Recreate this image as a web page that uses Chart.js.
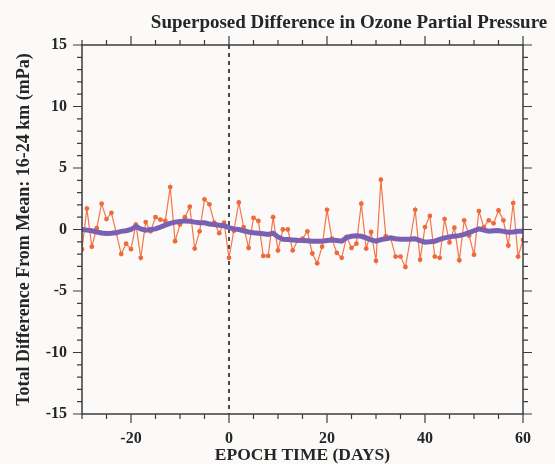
<!DOCTYPE html>
<html>
<head>
<meta charset="utf-8">
<title>Superposed Difference in Ozone Partial Pressure</title>
<script src="https://cdn.jsdelivr.net/npm/chart.js@4.4.1/dist/chart.umd.min.js"></script>
<style>
  html, body { margin: 0; padding: 0; background: #fbfaf9; }
  #wrap { width: 555px; height: 464px; }
</style>
</head>
<body>
<div id="wrap"><canvas id="ozoneChart" width="555" height="464"></canvas></div>
<script>
// epoch days
var days = [-30, -29, -28, -27, -26, -25, -24, -23, -22, -21,
    -20, -19, -18, -17, -16, -15, -14, -13, -12, -11,
    -10, -9, -8, -7, -6, -5, -4, -3, -2, -1,
    0, 1, 2, 3, 4, 5, 6, 7, 8, 9,
    10, 11, 12, 13, 14, 15, 16, 17, 18, 19,
    20, 21, 22, 23, 24, 25, 26, 27, 28, 29,
    30, 31, 32, 33, 34, 35, 36, 37, 38, 39,
    40, 41, 42, 43, 44, 45, 46, 47, 48, 49,
    50, 51, 52, 53, 54, 55, 56, 57, 58, 59, 60]

// daily difference from mean (mPa)
var ozoneDiff = [-1.6, 1.7, -1.4, 0.1, 2.1, 0.85, 1.35, -0.3, -2.0, -1.15,
    -1.6, 0.4, -2.3, 0.6, -0.15, 1.0, 0.8, 0.7, 3.45, -0.95,
    0.4, 1.0, 1.85, -1.55, -0.15, 2.45, 2.05, 0.55, -0.3, 0.55,
    -2.3, -0.1, 2.2, 0.2, -1.5, 0.95, 0.7, -2.15, -2.15, 1.0,
    -1.7, 0.0, 0.0, -1.7, -0.9, -0.75, -0.15, -1.95, -2.75, -1.4,
    1.6, -0.75, -1.9, -2.3, -0.6, -1.5, -1.15, 2.1, -1.55, -0.2,
    -2.55, 4.05, -0.55, -0.7, -2.2, -2.2, -3.05, -0.8, 1.6, -2.45,
    0.2, 1.1, -2.2, -2.3, 0.85, -1.05, 0.15, -2.5, 0.75, -0.5,
    -2.05, 1.5, 0.2, 0.75, 0.5, 1.55, 0.75, -1.3, 2.15, -2.2, -0.85]

// smoothed curve
var smoothDiff = [0.0, -0.05, -0.1, -0.2, -0.28, -0.32, -0.3, -0.25, -0.15, -0.1,
    0.0, 0.25, 0.05, -0.05, 0.0, 0.05, 0.2, 0.35, 0.5, 0.6,
    0.65, 0.7, 0.68, 0.6, 0.55, 0.55, 0.45, 0.4, 0.35, 0.3,
    0.15, 0.05, 0.0, -0.1, -0.2, -0.27, -0.3, -0.35, -0.4, -0.3,
    -0.6, -0.8, -0.82, -0.85, -0.88, -0.9, -0.92, -0.95, -0.95, -0.95,
    -0.9, -0.86, -0.9, -0.95, -0.65, -0.55, -0.5, -0.55, -0.68, -0.85,
    -0.95, -0.82, -0.75, -0.68, -0.75, -0.8, -0.8, -0.78, -0.75, -0.9,
    -1.03, -1.0, -0.95, -0.8, -0.68, -0.6, -0.54, -0.5, -0.4, -0.25,
    -0.1, 0.05, -0.05, -0.14, -0.1, -0.08, -0.15, -0.22, -0.2, -0.15, -0.14]

var xTickValues = [-20, 0, 20, 40, 60]
var yTickValues = [-15, -10, -5, 0, 5, 10, 15]

var chartTitle = "Superposed Difference in Ozone Partial Pressure"
var xTitle = "EPOCH TIME (DAYS)"
var yTitle = "Total Difference From Mean: 16-24 km (mPa)"

var axisColor = "#3c3c3c"
var textColor = "#262626"
var serif = "'Liberation Serif', 'DejaVu Serif', serif"

function toPoints(values){
    var pts = []
    for(var i = 0; i < days.length; i++){
        pts.push({ x: days[i], y: values[i] })
    }
    return pts
}

// frame, ticks on 4 sides, zero line and texts
var framePlugin = {
    id: 'frame',
    beforeDraw(chart){
        var ctx = chart.ctx
        ctx.save()
        ctx.fillStyle = "#fbfaf9"
        ctx.fillRect(0, 0, chart.width, chart.height)
        ctx.restore()
    },
    beforeDatasetsDraw(chart){
        var ctx = chart.ctx
        var area = chart.chartArea
        var x0 = chart.scales.x.getPixelForValue(0)
        ctx.save()
        ctx.strokeStyle = "#111"
        ctx.lineWidth = 1.5
        ctx.setLineDash([4, 4])
        ctx.beginPath()
        ctx.moveTo(x0, area.top)
        ctx.lineTo(x0, area.bottom)
        ctx.stroke()
        ctx.restore()
    },
    afterDraw(chart){
        var ctx = chart.ctx
        var area = chart.chartArea
        var xs = chart.scales.x
        var ys = chart.scales.y
        ctx.save()
        ctx.strokeStyle = axisColor
        ctx.lineWidth = 1.5
        ctx.strokeRect(area.left, area.top, area.right - area.left, area.bottom - area.top)

        ctx.lineWidth = 1.2
        ctx.beginPath()
        for(var v = xs.min; v <= xs.max; v += 5){
            var px = xs.getPixelForValue(v)
            var len = (v % 20 === 0) ? 9 : 5
            ctx.moveTo(px, area.bottom); ctx.lineTo(px, area.bottom + len)
            ctx.moveTo(px, area.top); ctx.lineTo(px, area.top - len)
        }
        for(var w = ys.min; w <= ys.max; w += 1){
            var py = ys.getPixelForValue(w)
            var l2 = (w % 5 === 0) ? 9 : 5
            ctx.moveTo(area.left, py); ctx.lineTo(area.left - l2, py)
            ctx.moveTo(area.right, py); ctx.lineTo(area.right + l2, py)
        }
        ctx.stroke()

        ctx.fillStyle = textColor
        ctx.textAlign = "center"
        ctx.textBaseline = "alphabetic"
        ctx.font = "bold 19px " + serif
        ctx.fillText(chartTitle, 349, 28)

        ctx.font = "bold 17.5px " + serif
        ctx.fillText(xTitle, (area.left + area.right) / 2, 460)

        ctx.font = "bold 18px " + serif
        ctx.translate(24, (area.top + area.bottom) / 2)
        ctx.rotate(-Math.PI / 2)
        ctx.textBaseline = "middle"
        ctx.fillText(yTitle, 0, 0)
        ctx.restore()
    }
}

var ctx = document.getElementById("ozoneChart").getContext('2d')
var ozoneChart = new Chart(ctx, {
    type: 'line',
    data: {
        datasets: [{
            label: "Smoothed",
            data: toPoints(smoothDiff),
            borderColor: "#7a60b2",
            borderWidth: 5,
            pointRadius: 0,
            tension: 0,
            order: 0
        }, {
            label: "Daily difference",
            data: toPoints(ozoneDiff),
            borderColor: "#f2774a",
            backgroundColor: "#ef6a38",
            borderWidth: 1.2,
            pointRadius: 2.4,
            pointBorderWidth: 0,
            tension: 0,
            order: 1
        }]
    },
    options: {
        responsive: false,
        animation: false,
        events: [],
        layout: { padding: { left: 0, top: 45, right: 32, bottom: 0 } },
        plugins: {
            legend: { display: false },
            tooltip: { enabled: false },
            title: { display: false }
        },
        scales: {
            x: {
                type: 'linear',
                min: -30,
                max: 60,
                afterFit: function(scale){ scale.height = 50 },
                afterBuildTicks: function(scale){
                    scale.ticks = xTickValues.map(function(v){ return { value: v } })
                },
                grid: { display: false, drawTicks: false },
                border: { display: false },
                ticks: {
                    padding: 15,
                    color: textColor,
                    font: { family: serif, size: 16, weight: 'bold' },
                    maxRotation: 0
                }
            },
            y: {
                min: -15,
                max: 15,
                afterFit: function(scale){ scale.width = 82 },
                afterBuildTicks: function(scale){
                    scale.ticks = yTickValues.map(function(v){ return { value: v } })
                },
                grid: { display: false, drawTicks: false },
                border: { display: false },
                ticks: {
                    padding: 15,
                    color: textColor,
                    font: { family: serif, size: 16, weight: 'bold' }
                }
            }
        }
    },
    plugins: [framePlugin]
})
</script>
</body>
</html>
